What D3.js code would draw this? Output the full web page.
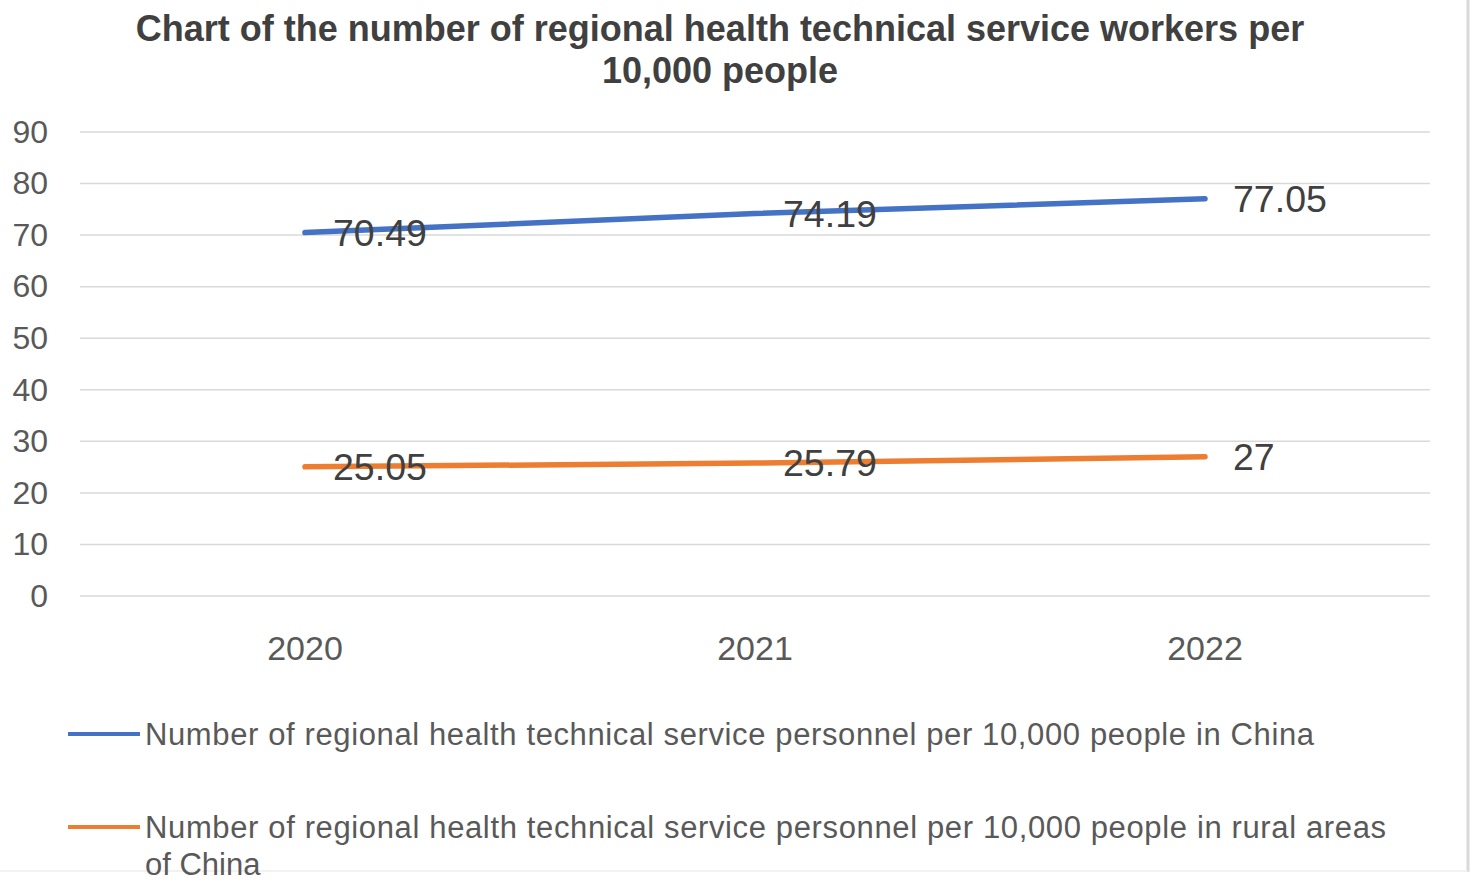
<!DOCTYPE html>
<html lang="en">
<head>
    <meta charset="utf-8">
    <title>Regional health technical service workers per 10,000 people</title>
    <script src="https://d3js.org/d3.v7.min.js"></script>
    <style>
        body { margin: 0; background: #fff; }
        svg text { font-family: "Liberation Sans", Arial, sans-serif; }
    </style>
</head>
<body>
<div id="chart"></div>
<script>
    // data
    const years = ["2020", "2021", "2022"];
    const chinaValues = [70.49, 74.19, 77.05];
    const ruralValues = [25.05, 25.79, 27];
    const seriesNames = [
        "Number of regional health technical service personnel per 10,000 people in China",
        "Number of regional health technical service personnel per 10,000 people in rural areas"
    ];
    const seriesColors = ["#4472C4", "#ED7D31"];
    const yTicks = [0, 10, 20, 30, 40, 50, 60, 70, 80, 90];
    const titleLines = ["Chart of the number of regional health technical service workers per", "10,000 people"];

    const width = 1477, height = 884;
    const svg = d3.select("#chart").append("svg")
        .attr("width", width).attr("height", height);

    // light frame on the right / bottom edge
    svg.append("line").attr("x1", 1468).attr("x2", 1468).attr("y1", 0).attr("y2", 872)
        .attr("stroke", "#d9d9d9").attr("stroke-width", 3);
    svg.append("line").attr("x1", 0).attr("x2", 1468).attr("y1", 871).attr("y2", 871)
        .attr("stroke", "#eeeeee").attr("stroke-width", 1.5);

    // title
    svg.append("text")
        .attr("text-anchor", "middle")
        .attr("fill", "#404040")
        .attr("font-size", 36)
        .attr("font-weight", "bold")
        .selectAll("tspan")
        .data(titleLines)
        .join("tspan")
        .attr("x", 720)
        .attr("y", (d, i) => 41 + i * 42)
        .text(d => d);

    const x = d3.scaleBand().domain(years).range([80, 1430]);
    const y = d3.scaleLinear().domain([0, 90]).range([596, 132]);
    const cx = d => x(d) + x.bandwidth() / 2;

    // gridlines
    svg.append("g")
        .selectAll("line")
        .data(yTicks)
        .join("line")
        .attr("x1", 80).attr("x2", 1430)
        .attr("y1", d => y(d)).attr("y2", d => y(d))
        .attr("stroke", "#d9d9d9")
        .attr("stroke-width", 1.5);

    // y axis
    const yAxis = svg.append("g")
        .attr("transform", "translate(48,0)")
        .call(d3.axisLeft(y).tickValues(yTicks).tickSize(0).tickPadding(0));
    yAxis.select(".domain").remove();
    yAxis.selectAll("text")
        .attr("font-size", 32)
        .attr("fill", "#595959")
        .attr("font-family", "Liberation Sans, Arial, sans-serif");

    // x axis
    const xAxis = svg.append("g")
        .attr("transform", "translate(0,596)")
        .call(d3.axisBottom(x).tickSize(0).tickPadding(0));
    xAxis.select(".domain").remove();
    xAxis.selectAll("text")
        .attr("dy", null)
        .attr("y", 64)
        .attr("font-size", 34)
        .attr("fill", "#595959")
        .attr("font-family", "Liberation Sans, Arial, sans-serif");

    const series = [chinaValues, ruralValues];
    const line = d3.line()
        .x((d, i) => cx(years[i]))
        .y(d => y(d));

    svg.append("g")
        .attr("fill", "none")
        .attr("stroke-width", 5.5)
        .attr("stroke-linecap", "round")
        .attr("stroke-linejoin", "round")
        .selectAll("path")
        .data(series)
        .join("path")
        .attr("stroke", (d, i) => seriesColors[i])
        .attr("d", d => line(d));

    // data labels
    series.forEach(values => {
        svg.append("g")
            .selectAll("text")
            .data(values)
            .join("text")
            .attr("x", (d, i) => cx(years[i]) + 28)
            .attr("y", d => y(d) + 13)
            .attr("font-size", 37.5)
            .attr("fill", "#404040")
            .text(d => d);
    });

    // legend
    const legendRows = [
        {y: 734, lines: [seriesNames[0]], widths: [1169]},
        {y: 827, lines: [seriesNames[1], "of China"], widths: [1241, null]}
    ];
    legendRows.forEach((row, i) => {
        svg.append("line")
            .attr("x1", 68).attr("x2", 140)
            .attr("y1", row.y).attr("y2", row.y)
            .attr("stroke", seriesColors[i])
            .attr("stroke-width", 4);
        svg.append("text")
            .attr("fill", "#595959")
            .attr("font-size", 31)
            .selectAll("tspan")
            .data(row.lines)
            .join("tspan")
            .attr("x", 145)
            .attr("y", (d, j) => row.y + 11 + j * 37)
            .attr("textLength", (d, j) => row.widths[j])
            .attr("lengthAdjust", "spacing")
            .text(d => d);
    });
</script>
</body>
</html>
